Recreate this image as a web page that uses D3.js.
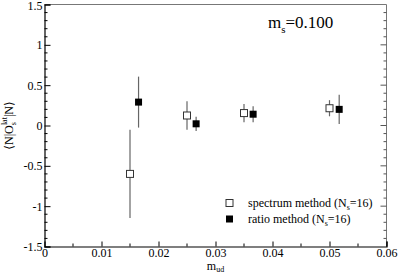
<!DOCTYPE html>
<html>
<head>
<meta charset="utf-8">
<script src="https://cdn.jsdelivr.net/npm/d3@7"></script>
<style>
  body { margin: 0; background: #fff; }
  svg, svg text { font-family: "Liberation Serif", "Times New Roman", Times, "DejaVu Serif", serif !important; }
</style>
</head>
<body>
<div id="chart"></div>
<script>
// spectrum method (open squares)
var spX = [0.015, 0.025, 0.035, 0.050];
var spY = [-0.60, 0.124, 0.154, 0.214];
var spErr = [0.547, 0.176, 0.113, 0.10];
// ratio method (filled squares)
var raX = [0.0165, 0.0266, 0.0366, 0.0517];
var raY = [0.29, 0.021, 0.14, 0.20];
var raErr = [0.316, 0.089, 0.10, 0.18];

var xTicks = [0, 0.01, 0.02, 0.03, 0.04, 0.05, 0.06];
var yTicks = [-1.5, -1, -0.5, 0, 0.5, 1, 1.5];

var W = 399, H = 273;
var serif = "'Liberation Serif', 'Times New Roman', serif";
var x = d3.scaleLinear().domain([0, 0.06]).range([44.5, 386.5]);
var y = d3.scaleLinear().domain([-1.5, 1.5]).range([246.5, 4.5]);

var svg = d3.select("#chart").append("svg")
    .attr("width", W)
    .attr("height", H)
    .attr("font-family", serif);

// frame (top/right lighter)
svg.append("line").attr("x1", x(0)).attr("x2", x(0.06)).attr("y1", y(1.5)).attr("y2", y(1.5))
    .attr("stroke", "#777").attr("stroke-width", 1);
svg.append("line").attr("x1", x(0.06)).attr("x2", x(0.06)).attr("y1", y(1.5)).attr("y2", y(-1.5))
    .attr("stroke", "#777").attr("stroke-width", 1);

// bottom axis, ticks pointing in
var xAxis = d3.axisBottom(x).tickValues(xTicks).tickSize(-5).tickPadding(2)
    .tickFormat(function (d) { return d === 0 ? "0" : d3.format(".2f")(d); });
var gx = svg.append("g").attr("transform", "translate(0," + y(-1.5) + ")").call(xAxis);
gx.selectAll("g.tick").filter(function (d) { return d === 0; }).select("line").remove();
var xMinor = d3.range(0.005, 0.06, 0.01);
gx.selectAll("line.minor").data(xMinor).enter().append("line")
    .attr("class", "minor")
    .attr("x1", function (d) { return x(d); }).attr("x2", function (d) { return x(d); })
    .attr("y1", 0).attr("y2", -3).attr("stroke", "#000");

// left axis
var yAxis = d3.axisLeft(y).tickValues(yTicks).tickSize(-6).tickPadding(2)
    .tickFormat(function (d) { return d; });
var gy = svg.append("g").attr("transform", "translate(" + x(0) + ",0)").call(yAxis);
var yMinor = d3.range(-14, 15).map(function (k) { return k / 10; })
    .filter(function (v) { return Math.abs(v * 2 - Math.round(v * 2)) > 1e-6; });
gy.selectAll("line.minor").data(yMinor).enter().append("line")
    .attr("class", "minor")
    .attr("y1", function (d) { return y(d); }).attr("y2", function (d) { return y(d); })
    .attr("x1", 0).attr("x2", 3).attr("stroke", "#000");

// right axis ticks
var gr = svg.append("g").attr("transform", "translate(" + x(0.06) + ",0)");
gr.selectAll("line.maj").data(yTicks.slice(1, -1)).enter().append("line")
    .attr("y1", function (d) { return y(d); }).attr("y2", function (d) { return y(d); })
    .attr("x1", 0).attr("x2", -6).attr("stroke", "#555");
gr.selectAll("line.minor").data(yMinor).enter().append("line")
    .attr("y1", function (d) { return y(d); }).attr("y2", function (d) { return y(d); })
    .attr("x1", 0).attr("x2", -3).attr("stroke", "#555");

[gx, gy].forEach(function (g) {
    g.attr("font-family", serif).attr("font-size", 12);
    g.select(".domain").attr("stroke", "#000").attr("stroke-width", 1.2);
    g.selectAll("text").attr("fill", "#000");
});
// keep the top label inside the window
gy.selectAll("g.tick").filter(function (d) { return d === 1.5; }).select("text").attr("dy", "0.45em");

// error bars
function bars(xs, ys, es) {
    svg.append("g").selectAll("line").data(xs).enter().append("line")
        .attr("x1", function (d) { return x(d); }).attr("x2", function (d) { return x(d); })
        .attr("y1", function (d, i) { return y(ys[i] + es[i]); })
        .attr("y2", function (d, i) { return y(ys[i] - es[i]); })
        .attr("stroke", "#666").attr("stroke-width", 1.2);
}
bars(spX, spY, spErr);
bars(raX, raY, raErr);

var s = 7;
svg.append("g").selectAll("rect").data(spX).enter().append("rect")
    .attr("x", function (d) { return x(d) - s / 2; })
    .attr("y", function (d, i) { return y(spY[i]) - s / 2; })
    .attr("width", s).attr("height", s)
    .attr("fill", "#fff").attr("stroke", "#333").attr("stroke-width", 1);
svg.append("g").selectAll("rect").data(raX).enter().append("rect")
    .attr("x", function (d) { return x(d) - s / 2; })
    .attr("y", function (d, i) { return y(raY[i]) - s / 2; })
    .attr("width", s).attr("height", s)
    .attr("fill", "#000");

// legend
var leg = svg.append("g").attr("font-size", 12);
leg.append("rect").attr("x", 226).attr("y", 199.5).attr("width", s).attr("height", s)
    .attr("fill", "#fff").attr("stroke", "#333");
leg.append("rect").attr("x", 226).attr("y", 215.5).attr("width", s).attr("height", s)
    .attr("fill", "#000");
var t1 = leg.append("text").attr("x", 248).attr("y", 207);
t1.append("tspan").text("spectrum method (N");
t1.append("tspan").attr("font-size", 8).attr("dy", 3).text("s");
t1.append("tspan").attr("dy", -3).text("=16)");
var t2 = leg.append("text").attr("x", 248).attr("y", 223);
t2.append("tspan").text("ratio method (N");
t2.append("tspan").attr("font-size", 8).attr("dy", 3).text("s");
t2.append("tspan").attr("dy", -3).text("=16)");

// m_s label
var ms = svg.append("text").attr("x", 268).attr("y", 28).attr("font-size", 17);
ms.append("tspan").text("m");
ms.append("tspan").attr("font-size", 11).attr("dy", 5).text("s");
ms.append("tspan").attr("dy", -5).text("=0.100");

// x label
var xl = svg.append("text").attr("x", x(0.03)).attr("y", 269.5).attr("text-anchor", "middle").attr("font-size", 12);
xl.append("tspan").text("m");
xl.append("tspan").attr("font-size", 8).attr("dy", 2).text("ud");

// y label
var yl = svg.append("text").attr("transform", "translate(13," + y(0) + ") rotate(-90)")
    .attr("text-anchor", "middle").attr("font-size", 12);
yl.append("tspan").text("\u27E8N|O");
yl.append("tspan").attr("font-size", 8).attr("dy", 3).text("s");
yl.append("tspan").attr("font-size", 8).attr("dx", -3).attr("dy", -9).text("lat");
yl.append("tspan").attr("dy", 6).text("|N\u27E9");
</script>
</body>
</html>
